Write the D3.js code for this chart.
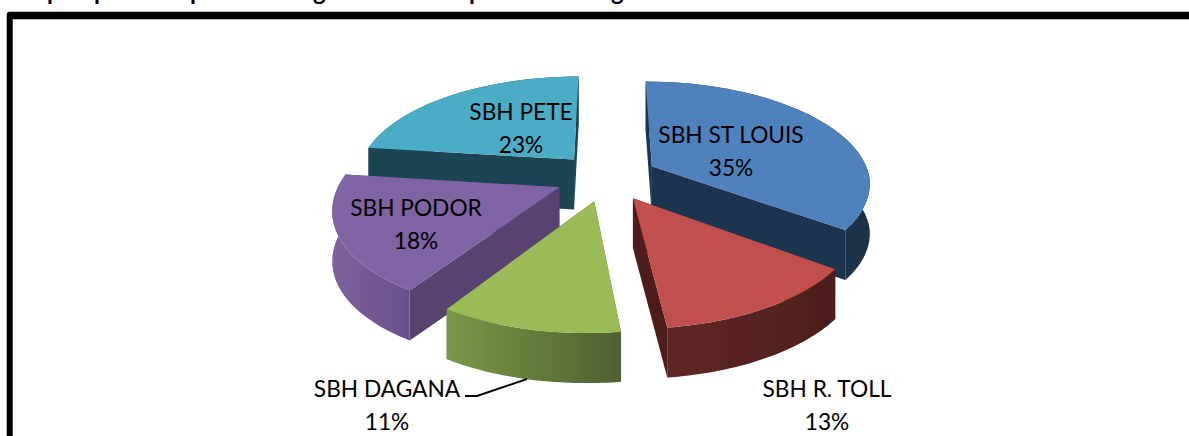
<!DOCTYPE html>
<html><head><meta charset="utf-8">
<script src="https://cdn.jsdelivr.net/npm/d3@7"></script>
<style>html,body{margin:0;padding:0;background:#fff;overflow:hidden}svg{display:block}text{font-family:Lato,Carlito,sans-serif;fill:#000}</style>
</head><body><svg id="c" width="1189" height="436"></svg>
<script>
const categories=["SBH ST LOUIS","SBH R. TOLL","SBH DAGANA","SBH PODOR","SBH PETE"];
const values=[35,13,11,18,23];
const percentLabels=["35%","13%","11%","18%","23%"];
const topColors=["#4f81bd","#c0504d","#9bbb59","#8064a2","#4bacc6"];
const innerWall=["#1f3450","#4f1f1d","#5c7034","#59436f","#1d4552"];
const outerWallStops=[["#2a4668","#1c3048"],["#602825","#4d1e1c"],["#7b9749","#4f6030"],["#7d619d","#6a5088"],["#2f6d7d","#1d4552"]];
const labelX=[731,827,387,416,521];
const labelY=[135,389,389,208,112];
const paintOrder=[4,0,3,1,2];
const titleFragments=["p","p","p","g","p","g"];
const titleFragmentX=[47,94,190,313,469,611];

const svg=d3.select("#c");
svg.selectAll("text.frag").data(titleFragments).join("text").attr("class","frag")
  .attr("x",(d,i)=>titleFragmentX[i]).attr("y",0).attr("font-size",24).attr("font-weight",700).text(d=>d);
svg.append("rect").attr("x",6.7).attr("y",11.7).attr("width",1300).attr("height",600).attr("rx",3).attr("fill","#000");
svg.append("rect").attr("x",12.7).attr("y",19.3).attr("width",1300).attr("height",600).attr("fill","#fff");
const defs=svg.append("defs");
defs.append("filter").attr("id","soft").append("feGaussianBlur").attr("stdDeviation",0.45);

const cx=607,cy=177,Rx=218,Ry=101.7,k=0.162,shear=-5,explode=0.235,depth=50;
function proj(u,v){const s=1/(1-k*v);return [cx+Rx*u*s+shear*Math.max(v,0),cy+Ry*v*s];}
const arcs=d3.pie().sort(null).value(d=>d)(values);
const g=svg.append("g").attr("filter","url(#soft)");
const line=d3.line();
paintOrder.forEach(i=>{
  const a=arcs[i],mid=(a.startAngle+a.endAngle)/2;
  const ox=explode*Math.sin(mid),oy=-explode*Math.cos(mid);
  const apex=proj(ox,oy);
  const ang=d3.range(0,41).map(t=>a.startAngle+(a.endAngle-a.startAngle)*t/40);
  const rim=ang.map(t=>proj(ox+Math.sin(t),oy-Math.cos(t)));
  const down=p=>[p[0],p[1]+depth];
  const m=proj(ox+0.5*Math.sin(mid),oy-0.5*Math.cos(mid));
  const wall=(P,Q)=>[P,Q,down(Q),down(P)];
  const facesFront=P=>{
    let n=[-(P[1]-apex[1]),P[0]-apex[0]];
    if(n[0]*(m[0]-apex[0])+n[1]*(m[1]-apex[1])>0) n=[-n[0],-n[1]];
    return n[1]>0;
  };
  const ends=[rim[0],rim[40]];
  const back=ends.filter(p=>!facesFront(p)),front=ends.filter(facesFront);
  back.forEach(p=>g.append("path").attr("d",line(wall(apex,p))+"Z").attr("fill",innerWall[i]));
  const gid="w"+i;
  const xs=d3.extent(rim,p=>p[0]);
  const lg=defs.append("linearGradient").attr("id",gid).attr("gradientUnits","userSpaceOnUse")
    .attr("x1",xs[0]).attr("x2",xs[1]).attr("y1",0).attr("y2",0);
  lg.append("stop").attr("offset",0).attr("stop-color",outerWallStops[i][0]);
  lg.append("stop").attr("offset",1).attr("stop-color",outerWallStops[i][1]);
  const outer=rim.concat(rim.map(down).reverse());
  g.append("path").attr("d",line(outer)+"Z").attr("fill","url(#"+gid+")");
  front.forEach(p=>g.append("path").attr("d",line(wall(apex,p))+"Z").attr("fill",innerWall[i]));
  g.append("path").attr("d",line([apex,...rim])+"Z").attr("fill",topColors[i]);
});
svg.append("path").attr("d",line([[465,396],[477,396],[527,379]])).attr("fill","none").attr("stroke","#000").attr("stroke-width",2);
categories.forEach((c,i)=>{
  const t=svg.append("text").attr("x",labelX[i]).attr("text-anchor","middle").attr("font-size",22.7);
  t.append("tspan").attr("x",labelX[i]).attr("y",labelY[i]+8).text(c);
  t.append("tspan").attr("x",labelX[i]).attr("y",labelY[i]+41).text(percentLabels[i]);
});
</script></body></html>
